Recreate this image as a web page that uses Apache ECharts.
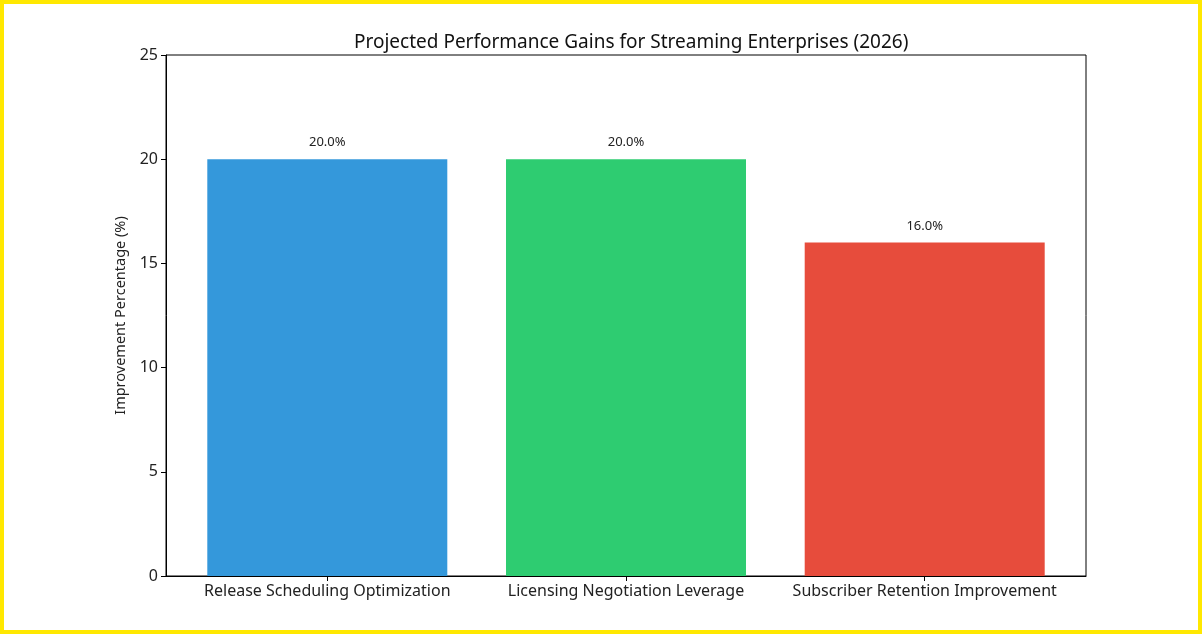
<!DOCTYPE html>
<html>
<head>
<meta charset="utf-8">
<script src="https://cdn.jsdelivr.net/npm/echarts@6/dist/echarts.min.js"></script>
<style>
  html, body { margin: 0; padding: 0; background: #fff; }
  #chart { width: 1194px; height: 626px; border: 4px solid #ffe800; background: #fff; }
</style>
</head>
<body>
<div id="chart"></div>
<script>
const categories = ['Release Scheduling Optimization', 'Licensing Negotiation Leverage', 'Subscriber Retention Improvement']
const values = [20.0, 20.0, 16.0]
const colors = ['#3498db', '#2ecc71', '#e74c3c']
const yTicks = [0, 5, 10, 15, 20, 25]

const font = '"Noto Sans", "Open Sans", sans-serif'
const chart = echarts.init(document.getElementById('chart'))

const barData = values.map((v, i) => ({
  value: [i, v],
  itemStyle: { color: colors[i] }
}))

chart.setOption({
  animation: false,
  textStyle: { fontFamily: font },
  title: {
    text: 'Projected Performance Gains for Streaming Enterprises (2026)',
    left: 345,
    top: 24,
    textStyle: { fontSize: 19, fontWeight: 'normal', color: '#111', fontFamily: font }
  },
  grid: {
    left: 162, top: 51, width: 920, height: 521,
    show: true, borderColor: '#000', borderWidth: 1
  },
  xAxis: {
    type: 'value',
    min: -0.54,
    max: 2.54,
    splitLine: { show: false },
    axisLine: { show: true, onZero: false, lineStyle: { color: '#000' } },
    axisTick: { show: true, customValues: [0, 1, 2], length: 5, lineStyle: { color: '#000' } },
    axisLabel: {
      customValues: [0, 1, 2],
      formatter: v => categories[Math.round(v)],
      fontSize: 16, color: '#222', margin: 7
    }
  },
  yAxis: {
    type: 'value',
    min: 0, max: 25, interval: 5,
    name: 'Improvement Percentage (%)',
    nameLocation: 'middle',
    nameGap: 36,
    nameTextStyle: { fontSize: 14.5, color: '#222' },
    splitLine: { show: false },
    axisLine: { show: true, onZero: false, lineStyle: { color: '#000' } },
    axisTick: { show: true, length: 5, lineStyle: { color: '#000' } },
    axisLabel: { fontSize: 16, color: '#222', margin: 8, formatter: v => yTicks.includes(v) ? String(v) : '' }
  },
  series: [{
    type: 'bar',
    data: barData,
    barWidth: 240,
    label: {
      show: true,
      position: 'top',
      distance: 10,
      fontSize: 13,
      color: '#222',
      formatter: p => p.value[1].toFixed(1) + '%'
    }
  }]
})
</script>
</body>
</html>
